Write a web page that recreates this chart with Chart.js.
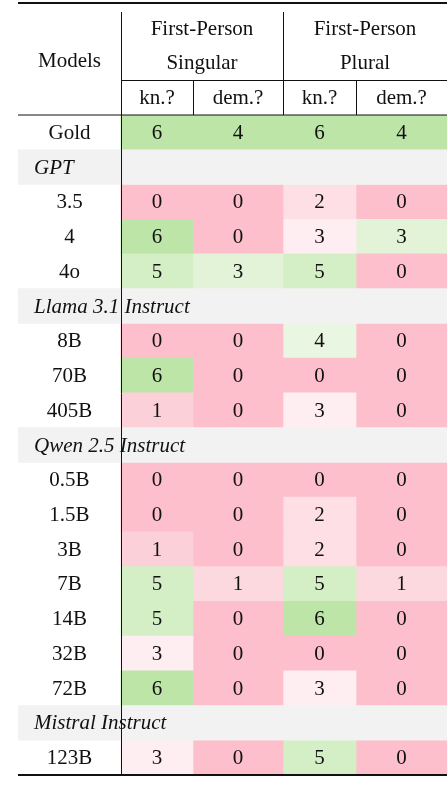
<!DOCTYPE html>
<html><head><meta charset="utf-8">
<script src="https://cdn.jsdelivr.net/npm/chart.js@4"></script>
<style>html,body{margin:0;padding:0;background:#fff}#c{display:block}</style>
</head><body>
<div style="width:448px;height:806px"><canvas id="c"></canvas></div>
<script>
const rows = ["Gold","GPT","3.5","4","4o","Llama 3.1 Instruct","8B","70B","405B","Qwen 2.5 Instruct","0.5B","1.5B","3B","7B","14B","32B","72B","Mistral Instruct","123B"];
const groupRows = ["GPT","Llama 3.1 Instruct","Qwen 2.5 Instruct","Mistral Instruct"];
const singKn  = [6,null,0,6,5,null,0,6,1,null,0,0,1,5,5,3,6,null,3];
const singDem = [4,null,0,0,3,null,0,0,0,null,0,0,0,1,0,0,0,null,0];
const plurKn  = [6,null,2,3,5,null,4,0,3,null,0,2,2,5,6,0,3,null,5];
const plurDem = [4,null,0,3,0,null,0,0,0,null,0,0,0,1,0,0,0,null,0];
const goldVals = [6,4,6,4];
const colNames = ["kn.?","dem.?","kn.?","dem.?"];
const colWidths = [1.03,0.72,0.90,0.73,0.91];
const edges=[0]; colWidths.forEach(w=>edges.push(edges[edges.length-1]+w));
const series=[singKn,singDem,plurKn,plurDem];
const stops=[[0,[253,191,203]],[0.17,[252,208,217]],[0.34,[253,224,230]],[0.5,[254,238,241]],[0.67,[233,246,225]],[0.75,[226,243,215]],[0.84,[211,239,196]],[1,[189,229,168]]];
function col(r){for(let i=1;i<stops.length;i++){if(r<=stops[i][0]){const a=stops[i-1],b=stops[i];const t=(r-a[0])/(b[0]-a[0]);const c=a[1].map((v,k)=>Math.round(v+(b[1][k]-v)*t));return `rgb(${c})`;}}return 'rgb(189,229,168)';}
const datasets=series.map((s,ci)=>({data:rows.map((r,i)=>s[i]==null?null:[edges[ci+1],edges[ci+2]]),
  backgroundColor:rows.map((r,i)=>s[i]==null?'transparent':col(s[i]/goldVals[ci])),grouped:false,borderWidth:0}));
datasets.unshift({data:rows.map(r=>groupRows.includes(r)?[edges[0],edges[5]]:null),backgroundColor:'#f2f2f2',grouped:false,borderWidth:0});
const F='"Liberation Serif", "DejaVu Serif", serif';
const tablePlugin={id:'tbl',afterDraw(ch){
  const c=ch.ctx,x=ch.scales.x,y=ch.scales.y,a=ch.chartArea;
  const X=v=>x.getPixelForValue(v);
  c.save();c.fillStyle='#111';c.textBaseline='middle';c.textAlign='center';
  c.font='21px '+F;
  rows.forEach((r,i)=>{const py=y.getPixelForValue(i);
    if(groupRows.includes(r)){c.font='italic 21px '+F;c.textAlign='left';c.fillText(r,a.left+16,py+1);c.textAlign='center';c.font='21px '+F;return;}
    c.fillText(r,(X(edges[0])+X(edges[1]))/2,py+1);
    series.forEach((s,ci)=>c.fillText(String(s[i]),(X(edges[ci+1])+X(edges[ci+2]))/2,py+1));
  });
  const top=a.top;
  c.fillText("Models",(X(edges[0])+X(edges[1]))/2,61);
  c.fillText("First-Person",(X(edges[1])+X(edges[3]))/2,29);
  c.fillText("Singular",(X(edges[1])+X(edges[3]))/2,63);
  c.fillText("First-Person",(X(edges[3])+X(edges[5]))/2,29);
  c.fillText("Plural",(X(edges[3])+X(edges[5]))/2,63);
  colNames.forEach((n,ci)=>c.fillText(n,(X(edges[ci+1])+X(edges[ci+2]))/2,98));
  c.strokeStyle='#111';
  const line=(x1,y1,x2,y2,w)=>{c.lineWidth=w;c.beginPath();c.moveTo(x1,y1);c.lineTo(x2,y2);c.stroke();};
  line(a.left,3,a.right,3,2);
  line(a.left,top,a.right,top,1);
  line(a.left,a.bottom,a.right,a.bottom,2);
  line(X(edges[1])+0.5,12,X(edges[1])+0.5,a.bottom,1);
  line(X(edges[3])+0.5,12,X(edges[3])+0.5,top,1);
  line(X(edges[2])+0.5,80,X(edges[2])+0.5,top,1);
  line(X(edges[4])+0.5,80,X(edges[4])+0.5,top,1);
  line(X(edges[1]),80.5,a.right,80.5,1);
  c.restore();
}};
new Chart(document.getElementById('c'),{type:'bar',data:{labels:rows,datasets},
 options:{indexAxis:'y',responsive:true,maintainAspectRatio:false,animation:false,
  categoryPercentage:1,barPercentage:1,
  layout:{padding:{left:18,right:1,top:115,bottom:31}},
  plugins:{legend:{display:false},tooltip:{enabled:false}},
  scales:{x:{type:'linear',min:edges[0],max:edges[5],display:false},
          y:{type:'category',display:false}}},
 plugins:[tablePlugin]});
</script></body></html>
